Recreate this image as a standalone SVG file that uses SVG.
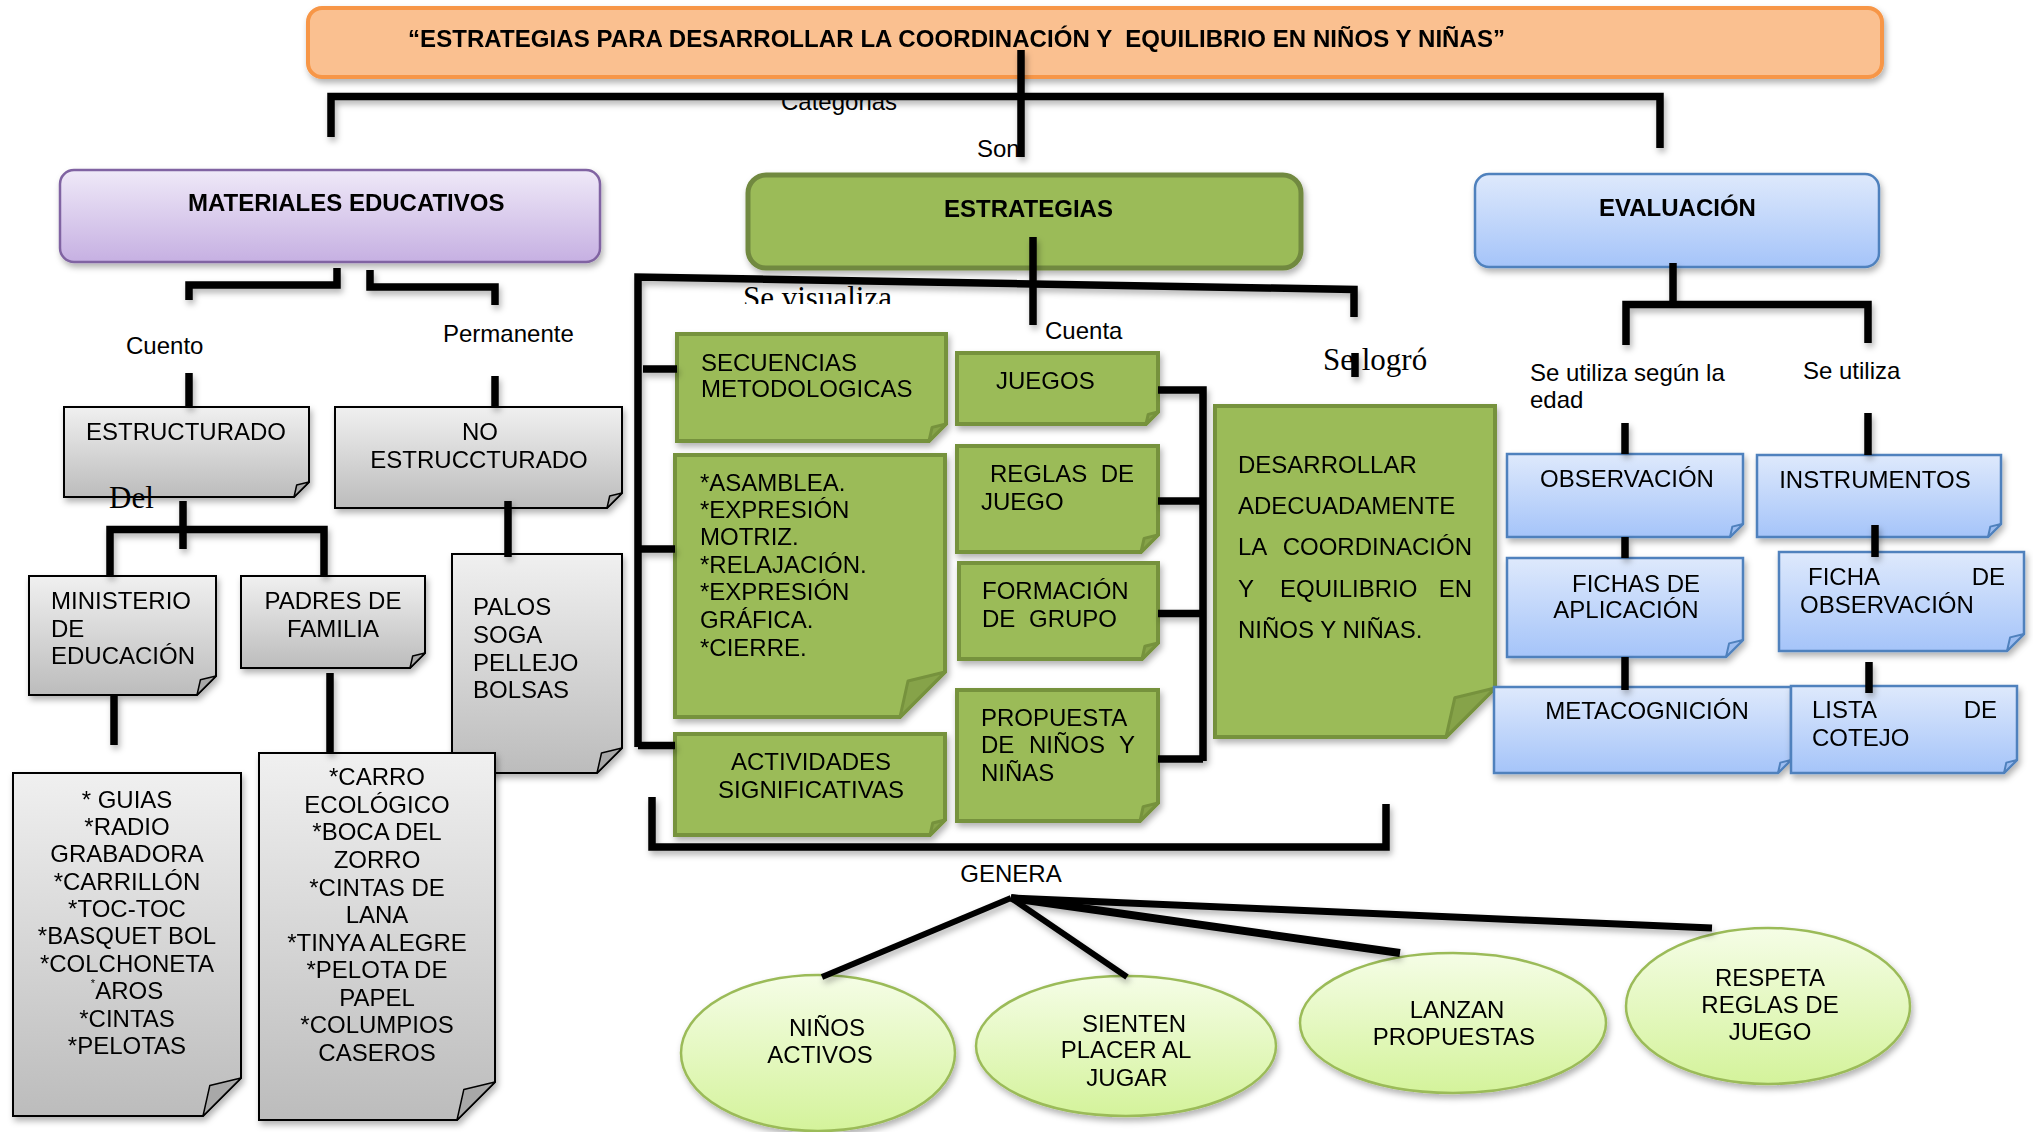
<svg xmlns="http://www.w3.org/2000/svg" width="2033" height="1132" viewBox="0 0 2033 1132">
<defs>
<filter id="sh" x="-10%" y="-10%" width="130%" height="140%">
<feDropShadow dx="2" dy="4" stdDeviation="3" flood-color="#000" flood-opacity="0.3"/>
</filter>
<linearGradient id="gPurple" x1="0" y1="0" x2="0" y2="1"><stop offset="0" stop-color="#EFE9F8"/><stop offset="1" stop-color="#C6B0E2"/></linearGradient>
<linearGradient id="gBlue" x1="0" y1="0" x2="0" y2="1"><stop offset="0" stop-color="#DEE9FC"/><stop offset="1" stop-color="#A5C4F9"/></linearGradient>
<linearGradient id="gGray" x1="0" y1="0" x2="0" y2="1"><stop offset="0" stop-color="#F0F0F0"/><stop offset="1" stop-color="#BCBCBC"/></linearGradient>
<linearGradient id="gLime" x1="0" y1="0" x2="0" y2="1"><stop offset="0" stop-color="#F5FDE6"/><stop offset="1" stop-color="#D4F39B"/></linearGradient>
<clipPath id="clipVis"><rect x="700" y="270" width="260" height="34"/></clipPath>
</defs>
<style>
text{font-family:"Liberation Sans",Arial,sans-serif;font-size:24px;fill:#000}
.b{font-weight:bold}
.m{text-anchor:middle}
.e{text-anchor:end}
.serif{font-family:"Liberation Serif","Times New Roman",serif;font-size:31px}
.grayNote{fill:url(#gGray);stroke:#000;stroke-width:2}
.grayFold{fill:#A8A8A8;stroke:#000;stroke-width:1.5;stroke-linejoin:round}
.greenNote{fill:#9BBB59;stroke:#76923C;stroke-width:4}
.greenFold{fill:#86A34A;stroke:#76923C;stroke-width:3;stroke-linejoin:round}
.blueNote{fill:url(#gBlue);stroke:#4F81BD;stroke-width:2.5}
.blueFold{fill:#9CBCF0;stroke:#4F81BD;stroke-width:2;stroke-linejoin:round}
.oval{fill:url(#gLime);stroke:#9BBB59;stroke-width:2.5}
.conn path{fill:none;stroke:#000;stroke-width:7.5;stroke-linejoin:miter}
</style>

<!-- header nodes -->
<g id="title" filter="url(#sh)">
<rect x="308" y="8" width="1574" height="69" rx="14" fill="#FAC090" stroke="#F79646" stroke-width="4"/>
<text class="b" x="408" y="47" xml:space="preserve" textLength="1097" lengthAdjust="spacing">“ESTRATEGIAS PARA DESARROLLAR LA COORDINACIÓN Y  EQUILIBRIO EN NIÑOS Y NIÑAS”</text>
</g>
<g id="materiales" filter="url(#sh)">
<rect x="60" y="170" width="540" height="92" rx="14" fill="url(#gPurple)" stroke="#8064A2" stroke-width="2.5"/>
<text class="b" x="188" y="211">MATERIALES EDUCATIVOS</text>
</g>
<g id="estrategias" filter="url(#sh)">
<rect x="748" y="175" width="553" height="93" rx="18" fill="#9BBB59" stroke="#71893F" stroke-width="5"/>
<text class="b" x="944" y="217">ESTRATEGIAS</text>
</g>
<g id="evaluacion" filter="url(#sh)">
<rect x="1475" y="174" width="404" height="93" rx="14" fill="url(#gBlue)" stroke="#4F81BD" stroke-width="2.5"/>
<text class="b" x="1599" y="216">EVALUACIÓN</text>
</g>

<!-- gray notes -->
<g id="estructurado" filter="url(#sh)">
<path class="grayNote" d="M64 407 H309 V482 L294 497 H64 Z"/><path class="grayFold" d="M309 482 L296.7 485 L294 497 Z"/>
<text class="m" x="186" y="440">ESTRUCTURADO</text>
</g>
<g id="no-estructurado" filter="url(#sh)">
<path class="grayNote" d="M335 407 H622 V493 L607 508 H335 Z"/><path class="grayFold" d="M622 493 L609.7 496 L607 508 Z"/>
<text class="m" x="480" y="440">NO</text>
<text class="m" x="479" y="468">ESTRUCCTURADO</text>
</g>
<g id="ministerio" filter="url(#sh)">
<path class="grayNote" d="M29 576 H216 V676 L197 695 H29 Z"/><path class="grayFold" d="M216 676 L200.4 679.8 L197 695 Z"/>
<text x="51" y="609">MINISTERIO</text>
<text x="51" y="637">DE</text>
<text x="51" y="664">EDUCACIÓN</text>
</g>
<g id="padres" filter="url(#sh)">
<path class="grayNote" d="M241 576 H425 V653 L410 668 H241 Z"/><path class="grayFold" d="M425 653 L412.7 656 L410 668 Z"/>
<text class="m" x="333" y="609">PADRES DE</text>
<text class="m" x="333" y="637">FAMILIA</text>
</g>
<g id="palos" filter="url(#sh)">
<path class="grayNote" d="M452 554 H622 V748 L597 773 H452 Z"/><path class="grayFold" d="M622 748 L601.5 753 L597 773 Z"/>
<text x="473" y="615">PALOS</text>
<text x="473" y="643">SOGA</text>
<text x="473" y="671">PELLEJO</text>
<text x="473" y="698">BOLSAS</text>
</g>
<g id="guias" filter="url(#sh)">
<path class="grayNote" d="M13 773 H241 V1078 L203 1116 H13 Z"/><path class="grayFold" d="M241 1078 L209.8 1085.6 L203 1116 Z"/>
<text class="m" x="127" y="808">* GUIAS</text>
<text class="m" x="127" y="835">*RADIO</text>
<text class="m" x="127" y="862">GRABADORA</text>
<text class="m" x="127" y="890">*CARRILLÓN</text>
<text class="m" x="127" y="917">*TOC-TOC</text>
<text class="m" x="127" y="944">*BASQUET BOL</text>
<text class="m" x="127" y="972">*COLCHONETA</text>
<text class="m" x="127" y="999"><tspan font-size="11" dy="-12">*</tspan><tspan dy="12">AROS</tspan></text>
<text class="m" x="127" y="1027">*CINTAS</text>
<text class="m" x="127" y="1054">*PELOTAS</text>
</g>
<g id="carro" filter="url(#sh)">
<path class="grayNote" d="M259 753 H495 V1082 L457 1120 H259 Z"/><path class="grayFold" d="M495 1082 L463.8 1089.6 L457 1120 Z"/>
<text class="m" x="377" y="785">*CARRO</text>
<text class="m" x="377" y="813">ECOLÓGICO</text>
<text class="m" x="377" y="840">*BOCA DEL</text>
<text class="m" x="377" y="868">ZORRO</text>
<text class="m" x="377" y="896">*CINTAS DE</text>
<text class="m" x="377" y="923">LANA</text>
<text class="m" x="377" y="951">*TINYA ALEGRE</text>
<text class="m" x="377" y="978">*PELOTA DE</text>
<text class="m" x="377" y="1006">PAPEL</text>
<text class="m" x="377" y="1033">*COLUMPIOS</text>
<text class="m" x="377" y="1061">CASEROS</text>
</g>

<!-- green notes -->
<g id="secuencias" filter="url(#sh)">
<path class="greenNote" d="M677 334 H946 V424 L929 441 H677 Z"/><path class="greenFold" d="M946 424 L932.1 427.4 L929 441 Z"/>
<text x="701" y="371">SECUENCIAS</text>
<text x="701" y="397">METODOLOGICAS</text>
</g>
<g id="asamblea" filter="url(#sh)">
<path class="greenNote" d="M675 455 H945 V672 L900 717 H675 Z"/><path class="greenFold" d="M945 672 L908 681 L900 717 Z"/>
<text x="700" y="491">*ASAMBLEA.</text>
<text x="700" y="518">*EXPRESIÓN</text>
<text x="700" y="545">MOTRIZ.</text>
<text x="700" y="573">*RELAJACIÓN.</text>
<text x="700" y="600">*EXPRESIÓN</text>
<text x="700" y="628">GRÁFICA.</text>
<text x="700" y="656">*CIERRE.</text>
</g>
<g id="actividades" filter="url(#sh)">
<path class="greenNote" d="M675 734 H945 V820 L930 835 H675 Z"/><path class="greenFold" d="M945 820 L932.7 823 L930 835 Z"/>
<text class="m" x="811" y="770">ACTIVIDADES</text>
<text class="m" x="811" y="798">SIGNIFICATIVAS</text>
</g>
<g id="juegos" filter="url(#sh)">
<path class="greenNote" d="M957 353 H1158 V412 L1146 424 H957 Z"/><path class="greenFold" d="M1158 412 L1148.2 414.4 L1146 424 Z"/>
<text x="996" y="389">JUEGOS</text>
</g>
<g id="reglas" filter="url(#sh)">
<path class="greenNote" d="M957 446 H1158 V535 L1141 552 H957 Z"/><path class="greenFold" d="M1158 535 L1144.1 538.4 L1141 552 Z"/>
<text x="990" y="482">REGLAS</text><text class="e" x="1134" y="482">DE</text>
<text x="981" y="510">JUEGO</text>
</g>
<g id="formacion" filter="url(#sh)">
<path class="greenNote" d="M959 563 H1158 V643 L1142 659 H959 Z"/><path class="greenFold" d="M1158 643 L1144.9 646.2 L1142 659 Z"/>
<text x="982" y="599">FORMACIÓN</text>
<text x="982" y="627">DE</text><text x="1029" y="627">GRUPO</text>
</g>
<g id="propuesta" filter="url(#sh)">
<path class="greenNote" d="M957 690 H1158 V803 L1140 821 H957 Z"/><path class="greenFold" d="M1158 803 L1143.2 806.6 L1140 821 Z"/>
<text x="981" y="726">PROPUESTA</text>
<text x="981" y="753">DE</text><text x="1029" y="753">NIÑOS</text><text class="e" x="1135" y="753">Y</text>
<text x="981" y="781">NIÑAS</text>
</g>
<g id="desarrollar" filter="url(#sh)">
<path class="greenNote" d="M1215 406 H1495 V688 L1446 737 H1215 Z"/><path class="greenFold" d="M1495 688 L1454.8 697.8 L1446 737 Z"/>
<text x="1238" y="473">DESARROLLAR</text>
<text x="1238" y="514">ADECUADAMENTE</text>
<text x="1238" y="555">LA</text><text class="e" x="1472" y="555">COORDINACIÓN</text>
<text x="1238" y="597">Y</text><text x="1280" y="597">EQUILIBRIO</text><text class="e" x="1472" y="597">EN</text>
<text x="1238" y="638">NIÑOS Y NIÑAS.</text>
</g>

<!-- blue notes -->
<g id="observacion" filter="url(#sh)">
<path class="blueNote" d="M1507 454 H1743 V524 L1730 537 H1507 Z"/><path class="blueFold" d="M1743 524 L1732.3 526.6 L1730 537 Z"/>
<text class="m" x="1627" y="487">OBSERVACIÓN</text>
</g>
<g id="instrumentos" filter="url(#sh)">
<path class="blueNote" d="M1757 455 H2001 V524 L1988 537 H1757 Z"/><path class="blueFold" d="M2001 524 L1990.3 526.6 L1988 537 Z"/>
<text class="m" x="1875" y="488">INSTRUMENTOS</text>
</g>
<g id="fichas-aplicacion" filter="url(#sh)">
<path class="blueNote" d="M1507 558 H1743 V640 L1726 657 H1507 Z"/><path class="blueFold" d="M1743 640 L1729.1 643.4 L1726 657 Z"/>
<text class="m" x="1636" y="592">FICHAS DE</text>
<text class="m" x="1626" y="618">APLICACIÓN</text>
</g>
<g id="metacognicion" filter="url(#sh)">
<path class="blueNote" d="M1494 687 H1791 V760 L1778 773 H1494 Z"/><path class="blueFold" d="M1791 760 L1780.3 762.6 L1778 773 Z"/>
<text class="m" x="1647" y="719">METACOGNICIÓN</text>
</g>
<g id="ficha-observacion" filter="url(#sh)">
<path class="blueNote" d="M1779 552 H2024 V634 L2007 651 H1779 Z"/><path class="blueFold" d="M2024 634 L2010.1 637.4 L2007 651 Z"/>
<text x="1808" y="585">FICHA</text><text class="e" x="2005" y="585">DE</text>
<text x="1800" y="613">OBSERVACIÓN</text>
</g>
<g id="lista-cotejo" filter="url(#sh)">
<path class="blueNote" d="M1791 686 H2017 V760 L2004 773 H1791 Z"/><path class="blueFold" d="M2017 760 L2006.3 762.6 L2004 773 Z"/>
<text x="1812" y="718">LISTA</text><text class="e" x="1997" y="718">DE</text>
<text x="1812" y="746">COTEJO</text>
</g>

<!-- ovals -->
<g id="ninos-activos" filter="url(#sh)">
<ellipse class="oval" cx="818" cy="1053" rx="137" ry="78"/>
<text class="m" x="827" y="1036">NIÑOS</text>
<text class="m" x="820" y="1063">ACTIVOS</text>
</g>
<g id="sienten-placer" filter="url(#sh)">
<ellipse class="oval" cx="1126" cy="1046" rx="150" ry="70"/>
<text class="m" x="1134" y="1032">SIENTEN</text>
<text class="m" x="1126" y="1058">PLACER AL</text>
<text class="m" x="1127" y="1086">JUGAR</text>
</g>
<g id="lanzan-propuestas" filter="url(#sh)">
<ellipse class="oval" cx="1453" cy="1023" rx="153" ry="70"/>
<text class="m" x="1457" y="1018">LANZAN</text>
<text class="m" x="1454" y="1045">PROPUESTAS</text>
</g>
<g id="respeta-reglas" filter="url(#sh)">
<ellipse class="oval" cx="1768" cy="1006" rx="142" ry="78"/>
<text class="m" x="1770" y="986">RESPETA</text>
<text class="m" x="1770" y="1013">REGLAS DE</text>
<text class="m" x="1770" y="1040">JUEGO</text>
</g>

<!-- connector labels -->
<g id="labels">
<text x="781" y="110">Categorias</text>
<text x="977" y="157">Son</text>
<text x="126" y="354">Cuento</text>
<text x="443" y="342">Permanente</text>
<text class="serif" x="109" y="508">Del</text>
<text class="serif" x="743" y="308" clip-path="url(#clipVis)">Se visualiza</text>
<text x="1045" y="339">Cuenta</text>
<text class="serif" x="1323" y="370">Se logró</text>
<text x="1530" y="381">Se utiliza según la</text>
<text x="1530" y="408">edad</text>
<text x="1803" y="379">Se utiliza</text>
<text class="m" x="1011" y="882">GENERA</text>
</g>

<!-- connectors -->
<g id="connectors" class="conn" filter="url(#sh)">
<path d="M1021 50 V157"/>
<path d="M331 137 V96.5 H1660 V148"/>
<path d="M337 268 V285 H189 V300"/>
<path d="M370 270 V287 H495 V305"/>
<path d="M189 373 V407"/>
<path d="M495 376 V407"/>
<path d="M183 501 V549"/>
<path d="M110 576 V529.5 H324 V576"/>
<path d="M508 501 V557"/>
<path d="M114 695 V745"/>
<path d="M330 673 V753"/>
<path d="M1033 237 V325"/>
<path d="M638 747 V277 L1354 289.5 V317"/>
<path d="M643 369 H677"/>
<path d="M638 549 H675"/>
<path d="M638 745.5 H675"/>
<path d="M1355 353 V377"/>
<path d="M652 797 V847 H1386 V804"/>
<path d="M1158 390 H1203 V761"/>
<path d="M1158 501 H1203"/>
<path d="M1158 613.5 H1203"/>
<path d="M1158 759 H1203"/>
<path d="M1011 898 L822 977" style="stroke-width:6"/>
<path d="M1011 898 L1127 977" style="stroke-width:6"/>
<path d="M1011 898 L1400 953" style="stroke-width:8"/>
<path d="M1011 898 L1712 928" style="stroke-width:7"/>
<path d="M1673 263 V305"/>
<path d="M1626 345 V304.5 H1868 V343"/>
<path d="M1625 423 V454"/>
<path d="M1868 413 V455"/>
<path d="M1625 537 V558"/>
<path d="M1625 657 V690"/>
<path d="M1875 525 V557"/>
<path d="M1869 662 V693"/>
</g>
</svg>
